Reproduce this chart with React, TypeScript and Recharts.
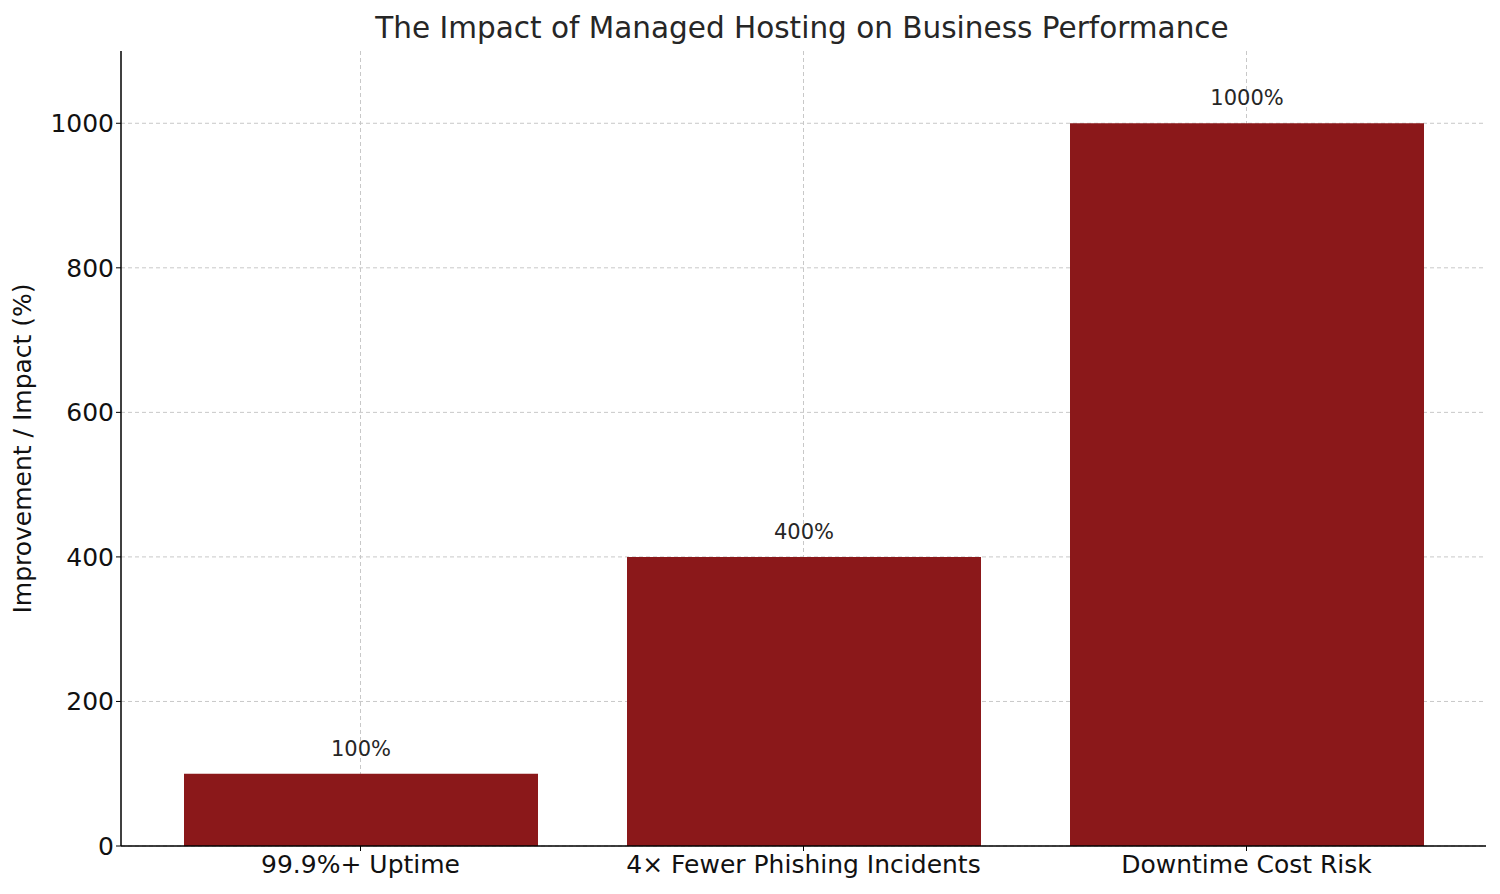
import React from "react";
import { BarChart, Bar, XAxis, YAxis, CartesianGrid, LabelList } from "recharts";

const categories = ["99.9%+ Uptime", "4× Fewer Phishing Incidents", "Downtime Cost Risk"];
const impactValues = [100, 400, 1000];
const yTicks = [0, 200, 400, 600, 800, 1000];

const data = categories.map((name, i) => ({ name, impact: impactValues[i] }));

const FONT = "DejaVu Sans, sans-serif";

const App: React.FC = () => {
    return (
        <div style={{ position: "absolute", left: 0, top: 0, width: 1500, height: 894, background: "#fff", fontFamily: FONT }}>
            <div style={{ position: "absolute", top: 11, width: 1500, left: 52, textAlign: "center", fontSize: 29.5, color: "#262626" }}>
                The Impact of Managed Hosting on Business Performance
            </div>
            <BarChart
                width={1500}
                height={894}
                data={data}
                margin={{ top: 51, right: 14, bottom: 0, left: 0 }}
            >
                <XAxis
                    dataKey="name"
                    height={48}
                    padding={{ left: 18, right: 18 }}
                    axisLine={{ stroke: "#000", strokeWidth: 1.5 }}
                    tickLine={{ stroke: "#000" }}
                    tickSize={5}
                    tick={{ fill: "#111", fontSize: 25, fontFamily: FONT, dy: 2 }}
                    interval={0}
                />
                <YAxis
                    width={121}
                    domain={[0, 1100]}
                    ticks={yTicks}
                    axisLine={{ stroke: "#000", strokeWidth: 1.5 }}
                    tickLine={{ stroke: "#000" }}
                    tickSize={5}
                    tick={{ fill: "#111", fontSize: 25, fontFamily: FONT }}
                    label={{ value: "Improvement / Impact (%)", angle: -90, position: "insideLeft", offset: 22, style: { textAnchor: "middle", fill: "#111", fontSize: 25, fontFamily: FONT } }}
                />
                <Bar dataKey="impact" fill="#8B181A" barSize={354} isAnimationActive={false}>
                    <LabelList dataKey="impact" position="top" offset={18} formatter={(v: any) => `${v}%`} style={{ fill: "#262626", fontSize: 21, fontFamily: FONT }} />
                </Bar>
                <CartesianGrid stroke="#c8c8c8" strokeDasharray="4 3" horizontalValues={yTicks} verticalValues={categories} />
            </BarChart>
        </div>
    );
};

export default App;
